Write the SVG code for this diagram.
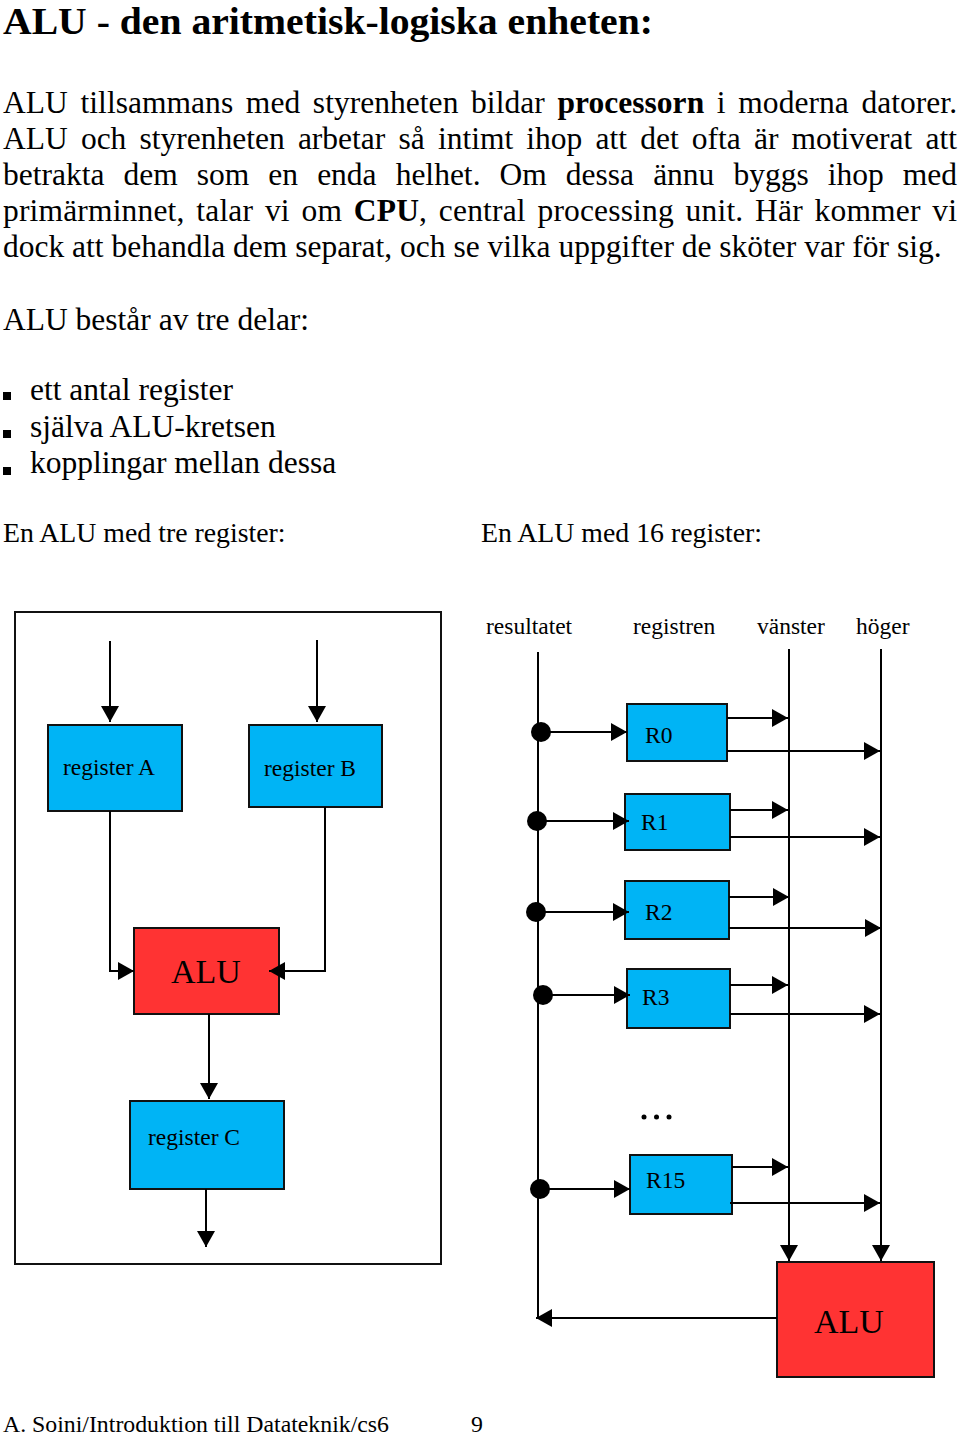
<svg xmlns="http://www.w3.org/2000/svg" width="960" height="1436" viewBox="0 0 960 1436">
<style>
  .t { font-family: "Liberation Serif", "Times New Roman", serif; fill: #000; }
  .body { font-size: 31.5px; }
  .b { font-weight: bold; }
  .lbl { font-size: 23.5px; }
  .reg { fill: #00B4F5; stroke: #111; stroke-width: 2; }
  .alu { fill: #FF3333; stroke: #111; stroke-width: 2; }
  .ln { stroke: #000; stroke-width: 2; fill: none; }
  .arr { stroke: #000; stroke-width: 2; fill: none; marker-end: url(#ah); }
</style>
<defs>
  <marker id="ah" markerUnits="userSpaceOnUse" markerWidth="16" markerHeight="18" refX="16" refY="9" orient="auto" viewBox="0 0 16 18">
    <path d="M0,0 L16,9 L0,18 Z" fill="#000"/>
  </marker>
</defs>
<rect x="0" y="0" width="960" height="1436" fill="#fff"/>

<g id="text">
  <text class="t b" x="3" y="33.5" font-size="37.5" textLength="650" lengthAdjust="spacingAndGlyphs">ALU - den aritmetisk-logiska enheten:</text>
  <text class="t body" x="3" y="113" word-spacing="4.75" textLength="954" lengthAdjust="spacing">ALU tillsammans med styrenheten bildar <tspan class="b">processorn</tspan> i moderna datorer.</text>
  <text class="t body" x="3" y="149" word-spacing="5.28" textLength="954" lengthAdjust="spacing">ALU och styrenheten arbetar så intimt ihop att det ofta är motiverat att</text>
  <text class="t body" x="3" y="185" word-spacing="11.17" textLength="954" lengthAdjust="spacing">betrakta dem som en enda helhet. Om dessa ännu byggs ihop med</text>
  <text class="t body" x="3" y="221" word-spacing="3.7" textLength="954" lengthAdjust="spacing">primärminnet, talar vi om <tspan class="b">CPU</tspan>, central processing unit. Här kommer vi</text>
  <text class="t body" x="3" y="257">dock att behandla dem separat, och se vilka uppgifter de sköter var för sig.</text>
  <text class="t body" x="3" y="330">ALU består av tre delar:</text>
  <rect x="3" y="392" width="8" height="8" fill="#000"/>
  <text class="t body" x="30" y="400">ett antal register</text>
  <rect x="3" y="430" width="8" height="8" fill="#000"/>
  <text class="t body" x="30" y="437">själva ALU-kretsen</text>
  <rect x="3" y="467" width="8" height="8" fill="#000"/>
  <text class="t body" x="30" y="473">kopplingar mellan dessa</text>
  <text class="t" x="3" y="542" font-size="27.8">En ALU med tre register:</text>
  <text class="t" x="481" y="542" font-size="27.8">En ALU med 16 register:</text>
  <text class="t" x="3" y="1432" font-size="23.8">A. Soini/Introduktion till Datateknik/cs6</text>
  <text class="t" x="471" y="1432" font-size="23.8">9</text>
</g>

<!-- Left diagram -->
<rect x="15" y="612" width="426" height="652" fill="none" stroke="#111" stroke-width="2"/>
<g id="regA">
  <rect class="reg" x="48" y="725" width="134" height="86"/>
  <text class="t lbl" x="63" y="775">register A</text>
</g>
<g id="regB">
  <rect class="reg" x="249" y="725" width="133" height="82"/>
  <text class="t lbl" x="264" y="776">register B</text>
</g>
<g id="alu1">
  <rect class="alu" x="134" y="928" width="145" height="86"/>
  <text class="t" x="206" y="983" font-size="34" text-anchor="middle">ALU</text>
</g>
<g id="regC">
  <rect class="reg" x="130" y="1101" width="154" height="88"/>
  <text class="t lbl" x="148" y="1145">register C</text>
</g>
<g id="left-connectors">
  <line class="arr" x1="110" y1="641" x2="110" y2="722"/>
  <line class="arr" x1="317" y1="640" x2="317" y2="722"/>
  <polyline class="arr" points="110,811 110,971 134,971"/>
  <polyline class="arr" points="325,807 325,971 269,971"/>
  <line class="arr" x1="209" y1="1014" x2="209" y2="1099"/>
  <line class="arr" x1="206" y1="1189" x2="206" y2="1247"/>
</g>

<!-- Right diagram -->
<g id="labels-right">
  <text class="t lbl" x="486" y="634">resultatet</text>
  <text class="t lbl" x="633" y="634">registren</text>
  <text class="t lbl" x="757" y="634">vänster</text>
  <text class="t lbl" x="856" y="634">höger</text>
</g>
<g id="R0">
  <rect class="reg" x="627" y="704" width="100" height="57"/>
  <text class="t lbl" x="645" y="743">R0</text>
</g>
<g id="R1">
  <rect class="reg" x="625" y="794" width="105" height="56"/>
  <text class="t lbl" x="641" y="830">R1</text>
</g>
<g id="R2">
  <rect class="reg" x="625" y="881" width="104" height="58"/>
  <text class="t lbl" x="645" y="920">R2</text>
</g>
<g id="R3">
  <rect class="reg" x="627" y="969" width="103" height="59"/>
  <text class="t lbl" x="642" y="1005">R3</text>
</g>
<g id="dots">
  <circle cx="644" cy="1117" r="2.5"/>
  <circle cx="656.5" cy="1117" r="2.5"/>
  <circle cx="669" cy="1117" r="2.5"/>
</g>
<g id="R15">
  <rect class="reg" x="630" y="1155" width="102" height="59"/>
  <text class="t lbl" x="646" y="1188">R15</text>
</g>
<g id="alu2">
  <rect class="alu" x="777" y="1262" width="157" height="115"/>
  <text class="t" x="849" y="1333" font-size="34" text-anchor="middle">ALU</text>
</g>
<g id="right-connectors">
  <line class="ln" x1="538" y1="652" x2="538" y2="1318"/>
  <line class="arr" x1="789" y1="649" x2="789" y2="1261"/>
  <line class="arr" x1="881" y1="649" x2="881" y2="1261"/>
  <line class="arr" x1="777" y1="1318" x2="536" y2="1318"/>

  <circle cx="541" cy="732" r="10"/>
  <line class="arr" x1="541" y1="732" x2="627" y2="732"/>
  <line class="arr" x1="727" y1="718" x2="788" y2="718"/>
  <line class="arr" x1="727" y1="751" x2="880" y2="751"/>

  <circle cx="537" cy="821" r="10"/>
  <line class="arr" x1="537" y1="821" x2="629" y2="821"/>
  <line class="arr" x1="730" y1="810" x2="788" y2="810"/>
  <line class="arr" x1="730" y1="837" x2="880" y2="837"/>

  <circle cx="536" cy="912" r="10"/>
  <line class="arr" x1="536" y1="912" x2="629" y2="912"/>
  <line class="arr" x1="729" y1="897" x2="789" y2="897"/>
  <line class="arr" x1="729" y1="928" x2="881" y2="928"/>

  <circle cx="543" cy="995" r="10"/>
  <line class="arr" x1="543" y1="995" x2="630" y2="995"/>
  <line class="arr" x1="730" y1="985" x2="788" y2="985"/>
  <line class="arr" x1="730" y1="1014" x2="880" y2="1014"/>

  <circle cx="540" cy="1189" r="10"/>
  <line class="arr" x1="540" y1="1189" x2="630" y2="1189"/>
  <line class="arr" x1="732" y1="1167" x2="788" y2="1167"/>
  <line class="arr" x1="730" y1="1203" x2="880" y2="1203"/>
</g>
</svg>
